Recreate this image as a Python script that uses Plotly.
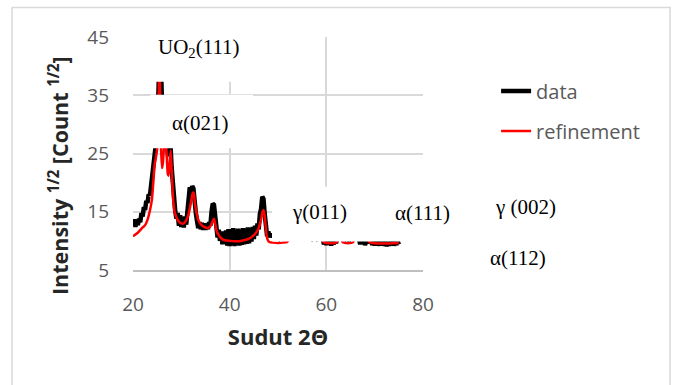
import plotly.graph_objects as go

# ---------------- data ----------------
data_two_theta = [
    20.00, 20.25, 20.50, 20.75, 21.00, 21.25, 21.50, 21.75, 22.00, 22.25, 22.50, 22.75,
    23.00, 23.25, 23.50, 23.75, 24.00, 24.25, 24.50, 24.75, 25.00, 25.25, 25.50, 25.75,
    26.00, 26.25, 26.50, 26.75, 27.00, 27.25, 27.50, 27.75, 28.00, 28.25, 28.50, 28.75,
    29.00, 29.25, 29.50, 29.75, 30.00, 30.25, 30.50, 30.75, 31.00, 31.25, 31.50, 31.75,
    32.00, 32.25, 32.50, 32.75, 33.00, 33.25, 33.50, 33.75, 34.00, 34.25, 34.50, 34.75,
    35.00, 35.25, 35.50, 35.75, 36.00, 36.25, 36.50, 36.75, 37.00, 37.25, 37.50, 37.75,
    38.00, 38.25, 38.50, 38.75, 39.00, 39.25, 39.50, 39.75, 40.00, 40.25, 40.50, 40.75,
    41.00, 41.25, 41.50, 41.75, 42.00, 42.25, 42.50, 42.75, 43.00, 43.25, 43.50, 43.75,
    44.00, 44.25, 44.50, 44.75, 45.00, 45.25, 45.50, 45.75, 46.00, 46.25, 46.50, 46.75,
    47.00, 47.25, 47.50, 47.75, 48.00, 48.25, 48.50, 48.75, 49.00, 49.25, 49.50, 49.75,
    50.00, 50.25, 50.50, 50.75, 51.00, 51.25, 51.50, 51.75, 52.00, 52.25, 52.50, 52.75,
    53.00, 53.25, 53.50, 53.75, 54.00, 54.25, 54.50, 54.75, 55.00, 55.25, 55.50, 55.75,
    56.00, 56.25, 56.50, 56.75, 57.00, 57.25, 57.50, 57.75, 58.00, 58.25, 58.50, 58.75,
    59.00, 59.25, 59.50, 59.75, 60.00, 60.25, 60.50, 60.75, 61.00, 61.25, 61.50, 61.75,
    62.00, 62.25, 62.50, 62.75, 63.00, 63.25, 63.50, 63.75, 64.00, 64.25, 64.50, 64.75,
    65.00, 65.25, 65.50, 65.75, 66.00, 66.25, 66.50, 66.75, 67.00, 67.25, 67.50, 67.75,
    68.00, 68.25, 68.50, 68.75, 69.00, 69.25, 69.50, 69.75, 70.00, 70.25, 70.50, 70.75,
    71.00, 71.25, 71.50, 71.75, 72.00, 72.25, 72.50, 72.75, 73.00, 73.25, 73.50, 73.75,
    74.00, 74.25, 74.50, 74.75, 75.00,
]
data_intensity = [
    12.5, 13.7, 12.4, 13.6, 12.7, 13.8, 13.2, 14.8, 14.2, 15.8, 15.3, 16.9,
    16.5, 18.0, 17.8, 19.6, 19.9, 22.0, 23.5, 25.5, 28.5, 35.0, 43.0, 41.0,
    33.0, 26.5, 30.0, 31.0, 27.0, 24.5, 27.0, 26.5, 22.5, 19.0, 16.5, 15.0,
    13.8, 14.8, 12.6, 14.4, 12.4, 14.0, 12.3, 14.2, 12.8, 15.5, 17.8, 19.2,
    18.0, 19.4, 19.0, 16.2, 14.8, 13.4, 12.2, 13.2, 12.0, 13.1, 11.9, 13.0,
    11.9, 12.9, 12.0, 13.2, 12.6, 15.0, 16.4, 16.2, 13.8, 12.2, 10.6, 11.9,
    10.0, 11.6, 9.4, 11.6, 9.5, 11.8, 9.2, 12.0, 9.1, 12.0, 9.3, 12.2,
    9.1, 11.8, 9.4, 12.1, 9.2, 11.9, 9.3, 12.2, 9.4, 12.0, 9.5, 12.3,
    9.6, 12.2, 9.9, 12.4, 10.3, 12.6, 10.9, 13.0, 12.0, 14.6, 15.5, 17.6,
    17.2, 14.6, 11.8, 10.8, 11.6, 10.6, 11.2, 10.7, 11.0, 10.5, 10.9, 10.4,
    10.8, 10.5, 10.9, 10.4, 10.8, 10.5, 10.9, 10.4, 10.8, 10.6, 11.0, 10.6,
    11.2, 10.8, 11.4, 11.2, 11.9, 12.2, 13.0, 12.4, 11.6, 11.0, 10.7, 11.0,
    10.5, 10.9, 10.4, 10.8, 10.5, 10.9, 10.4, 10.8, 10.5, 10.9, 10.4, 10.8,
    10.5, 10.6, 9.4, 10.2, 9.3, 10.1, 9.5, 10.3, 9.2, 10.2, 9.4, 10.1,
    9.6, 10.5, 11.0, 11.5, 10.6, 10.5, 10.5, 10.8, 10.4, 10.7, 10.4, 10.8,
    10.4, 10.7, 10.6, 10.9, 11.4, 10.8, 10.6, 10.4, 9.4, 10.3, 9.5, 10.2,
    9.3, 10.4, 10.5, 10.2, 9.6, 10.1, 9.3, 10.0, 9.2, 10.0, 9.3, 9.9,
    9.2, 10.1, 9.3, 9.9, 9.2, 9.9, 9.1, 9.8, 9.2, 9.9, 9.3, 10.0,
    9.2, 9.9, 9.3, 10.0, 9.4,
]

refine_two_theta = [
    20.0, 21.0, 22.0, 22.5, 23.0, 23.5, 23.9, 24.2, 24.5, 24.8, 25.1, 25.3,
    25.45, 25.6, 25.8, 26.0, 26.2, 26.45, 26.7, 26.95, 27.2, 27.35, 27.55, 27.8,
    28.0, 28.3, 28.6, 29.0, 29.5, 30.0, 30.5, 31.0, 31.5, 32.0, 32.35, 32.55,
    32.8, 33.2, 33.6, 34.2, 35.0, 35.6, 36.0, 36.4, 36.75, 37.0, 37.3, 37.8,
    38.3, 39.0, 40.0, 41.0, 42.0, 43.0, 44.0, 45.0, 45.8, 46.4, 46.8, 47.0,
    47.25, 47.5, 47.8, 48.2, 49.0, 50.0, 51.0, 51.8, 52.4, 53.5, 54.3, 54.6,
    55.0, 55.6, 56.5, 57.5, 58.5, 59.1, 59.5, 60.5, 61.5, 62.1, 62.5, 62.75,
    63.0, 63.4, 64.5, 65.5, 66.0, 66.3, 66.6, 67.2, 68.0, 68.6, 69.0, 70.0,
    71.0, 72.0, 73.0, 74.0, 75.0,
]
refine_intensity = [
    10.8, 11.4, 12.3, 12.7, 13.6, 15.2, 17.0, 20.0, 23.2, 24.6, 26.5, 33.0,
    42.0, 36.0, 26.0, 22.5, 23.5, 26.5, 28.5, 25.0, 21.5, 21.2, 23.0, 25.5,
    22.0, 17.2, 15.0, 14.0, 13.3, 13.0, 13.0, 13.5, 14.6, 16.6, 18.2, 18.3,
    16.5, 14.6, 13.4, 12.7, 12.3, 12.2, 12.5, 13.2, 13.8, 13.0, 11.7, 10.9,
    10.4, 10.1, 10.0, 9.95, 9.95, 10.1, 10.4, 11.0, 11.8, 13.3, 15.0, 15.3,
    14.3, 12.0, 10.3, 9.8, 9.7, 9.65, 9.7, 9.8, 10.3, 10.6, 11.8, 12.3,
    11.5, 10.6, 10.3, 10.25, 10.2, 10.2, 9.75, 9.6, 9.6, 9.75, 10.6, 11.5,
    10.5, 9.75, 9.6, 9.75, 11.0, 11.4, 10.6, 10.3, 10.3, 10.2, 9.75, 9.6,
    9.55, 9.55, 9.55, 9.6, 9.65,
]

x_ticks = [20, 40, 60, 80]
y_ticks = [5, 15, 25, 35, 45]

# peak labels drawn over the plot area (data coordinates)
peak_labels = ["UO<sub>2</sub>(111)", "α(021)", "γ(011)", "α(111)"]
peak_label_x = [33.6, 34.0, 58.55, 79.8]
peak_label_y = [43.05, 30.25, 14.9, 14.75]
# peak labels lying right of the plot area (paper coordinates)
side_labels = ["γ (002)", "α(112)"]
side_label_x = [1.352, 1.327]
side_label_y = [0.270, 0.050]

# white label boxes (x0, x1, y0, y1) in data units
label_boxes = [
    (20.83, 46.9, 37.3, 48.0),
    (23.58, 44.83, 25.9, 35.1),
    (48.76, 90.0, 9.89, 19.3),
]

# ---------------- figure ----------------
fig = go.Figure()
fig.add_trace(go.Scatter(
    x=data_two_theta, y=data_intensity, mode="lines", name="data",
    line=dict(color="#000000", width=4.5), legendgroup="a",
))
fig.add_trace(go.Scatter(
    x=refine_two_theta, y=refine_intensity, mode="lines", name="refinement",
    line=dict(color="#ff0000", width=2.5, shape="spline", smoothing=0.6), legendgroup="b",
))

shapes = []
for (x0, x1, y0, y1) in label_boxes:
    shapes.append(dict(type="rect", xref="x", yref="y", x0=x0, x1=x1, y0=y0, y1=y1,
                       fillcolor="white", line=dict(width=0), layer="above"))
# outer chart border
shapes.append(dict(type="rect", xref="paper", yref="paper",
                   x0=-0.417, x1=1.852, y0=-0.53, y1=1.127,
                   line=dict(color="#d9d9d9", width=1.5), fillcolor="rgba(0,0,0,0)",
                   layer="below"))

label_font = dict(family="Liberation Serif", size=21, color="#000000")
annotations = []
for t, xx, yy in zip(peak_labels, peak_label_x, peak_label_y):
    annotations.append(dict(text=t, x=xx, y=yy, xref="x", yref="y", showarrow=False,
                            xanchor="center", yanchor="middle", font=label_font))
for t, xx, yy in zip(side_labels, side_label_x, side_label_y):
    annotations.append(dict(text=t, x=xx, y=yy, xref="paper", yref="paper", showarrow=False,
                            xanchor="center", yanchor="middle", font=label_font))
annotations.append(dict(
    text="Intensity <sup>1/2</sup> [Count <sup>1/2</sup>]",
    x=(58 - 133) / 290, y=(270 - 176) / 233, xref="paper", yref="paper",
    showarrow=False, textangle=-90, xanchor="center", yanchor="middle",
    font=dict(family="Open Sans", size=21.5, color="#262626", weight="bold")))

fig.update_layout(
    width=675, height=385,
    margin=dict(l=133, r=252, t=37, b=115),
    paper_bgcolor="white", plot_bgcolor="white",
    font=dict(family="Open Sans", color="#595959"),
    showlegend=True,
    legend=dict(x=1.252, y=0.852, xanchor="left", yanchor="top",
                font=dict(family="Open Sans", size=20, color="#595959"),
                bgcolor="rgba(0,0,0,0)", traceorder="grouped", tracegroupgap=11),
    shapes=shapes,
    annotations=annotations,
)
fig.update_xaxes(
    range=[20, 80], tickvals=x_ticks, ticktext=[str(v) for v in x_ticks],
    showgrid=True, gridcolor="#d9d9d9", gridwidth=1.5,
    showline=True, linecolor="#bfbfbf", linewidth=2, zeroline=False, ticks="",
    tickfont=dict(family="Open Sans", size=19, color="#595959"),
    ticklabelstandoff=16,
    title=dict(text="Sudut 2Θ", standoff=14,
               font=dict(family="Open Sans", size=22, color="#262626", weight="bold")),
)
fig.update_yaxes(
    range=[5, 45], tickvals=y_ticks, ticktext=[str(v) for v in y_ticks],
    showgrid=True, gridcolor="#d9d9d9", gridwidth=1.5,
    showline=False, zeroline=False, ticks="",
    tickfont=dict(family="Open Sans", size=19, color="#595959"),
    ticklabelstandoff=23,
)

fig.write_html("out.html", config={"displayModeBar": False},
               post_script="document.body.style.margin='0';")
